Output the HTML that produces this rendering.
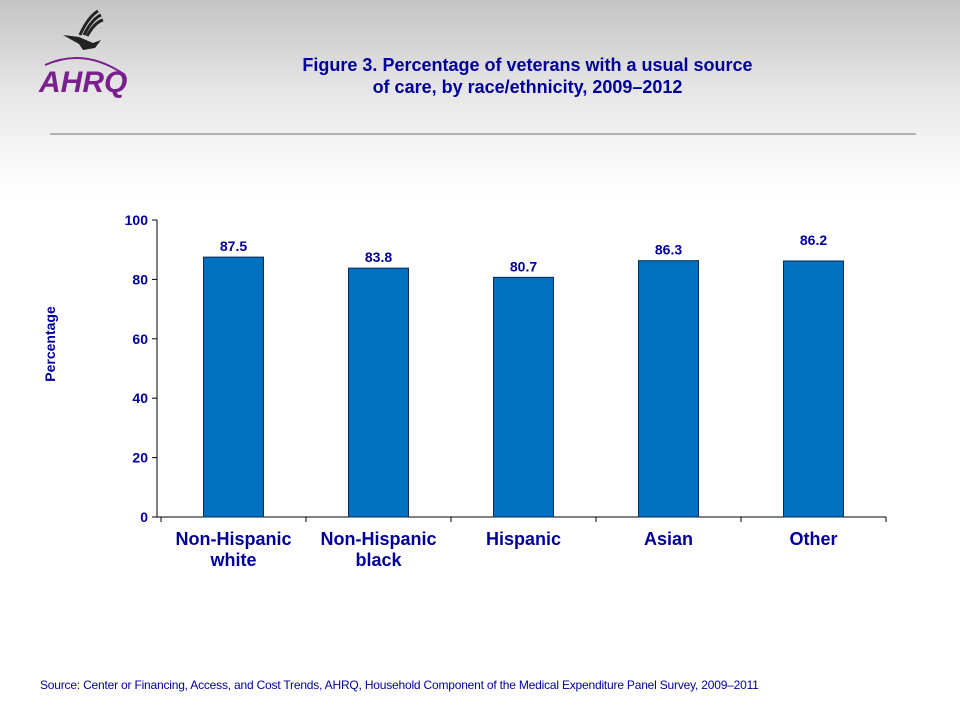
<!DOCTYPE html>
<html><head><meta charset="utf-8"><style>
body{margin:0;width:960px;height:720px;overflow:hidden;font-family:"Liberation Sans",sans-serif;background:linear-gradient(#c4c4c4 0px,#e6e6e6 90px,#fafafa 170px,#fff 200px);position:relative}
.t{position:absolute;color:#000099;font-weight:bold}
</style></head><body>
<div style="position:absolute;left:35px;top:5px;width:110px;height:95px">
<svg width="110" height="95"><path d="M45 30 q8-18 18-24 M49 30 q8-16 17-20 M52 31 q8-14 16-16" stroke="#222" stroke-width="3" fill="none"/><path d="M28 30 l16 2 l14 6 l8-3 l-6 8 l-12 2 l-4 -6z" fill="#222"/>
<path d="M10 60 q40-18 80 10" stroke="#7a1f8e" stroke-width="2" fill="none"/>
<text x="4" y="87" font-family="Liberation Sans" font-weight="bold" font-style="italic" font-size="30" fill="#7a1f8e">AHRQ</text></svg></div>
<div class="t" style="left:200px;top:54px;width:655px;text-align:center;font-size:18px;line-height:22px">Figure 3. Percentage of veterans with a usual source<br>of care, by race/ethnicity, 2009–2012</div>
<div style="position:absolute;left:50px;top:133px;width:866px;height:2px;background:#b0b0b0"></div>
<div class="t" style="width:100px;text-align:center;font-size:14px;transform:rotate(-90deg);transform-origin:50px 8px;left:0px;top:336px">Percentage</div>
<svg id="chart" width="960" height="720" style="position:absolute;left:0;top:0"></svg>
<div style="position:absolute;left:40px;top:678px;font-size:12px;letter-spacing:-0.2px;color:#000099">Source: Center or Financing, Access, and Cost Trends, AHRQ,  Household Component of the Medical Expenditure Panel Survey,  2009–2011</div>
<script>
const categories=[["Non-Hispanic","white"],["Non-Hispanic","black"],["Hispanic"],["Asian"],["Other"]];
const values=[87.5,83.8,80.7,86.3,86.2];
const labels=["87.5","83.8","80.7","86.3","86.2"];
const ticks=[0,20,40,60,80,100];
const NS="http://www.w3.org/2000/svg",svg=document.getElementById('chart');
const x0=161,bw=145,yb=517,yt=220;
const y=v=>yb-(v/100)*(yb-yt);
const xc=i=>x0+bw*(i+0.5);
function mk(t,a){const e=document.createElementNS(NS,t);for(const k in a)e.setAttribute(k,a[k]);svg.appendChild(e);return e;}
let ax=mk('line',{x1:157,y1:yt,x2:157,y2:yb,stroke:'#000'});


let bx=mk('line',{x1:157,y1:yb,x2:886,y2:yb,stroke:'#000'});


ticks.forEach(t=>{mk('line',{x1:152,y1:y(t),x2:157,y2:y(t),stroke:'#000'});
let tx=mk('text',{x:148,y:y(t)+5,'text-anchor':'end','font-size':14,'font-weight':'bold',fill:'#000099','font-family':'Liberation Sans'});tx.textContent=t;

});
for(let i=0;i<=categories.length;i++)mk('line',{x1:x0+bw*i,y1:yb,x2:x0+bw*i,y2:yb+5,stroke:'#000'});
values.forEach((v,i)=>{
let r=mk('rect',{x:xc(i)-30,y:y(v),width:60,height:yb-y(v),fill:'#0070c0',stroke:'#0a2a55'});


let l=mk('text',{x:xc(i),y:y(v)-6-(i==4?10:0),'text-anchor':'middle','font-size':14,'font-weight':'bold',fill:'#000099','font-family':'Liberation Sans'});l.textContent=labels[i];


categories[i].forEach((s,j)=>{let c=mk('text',{x:xc(i),y:545+j*21,'text-anchor':'middle','font-size':18,'font-weight':'bold',fill:'#000099','font-family':'Liberation Sans'});c.textContent=s;

});
});
</script>
</body></html>
